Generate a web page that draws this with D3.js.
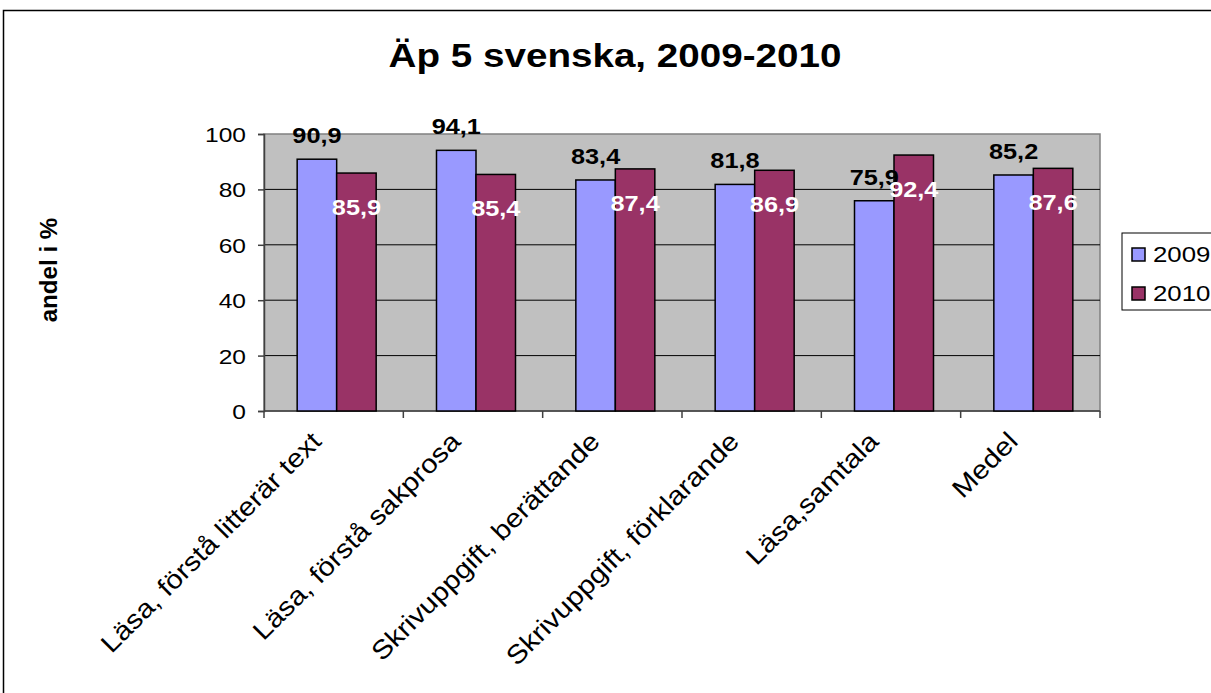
<!DOCTYPE html>
<html>
<head>
<meta charset="utf-8">
<script src="https://cdn.jsdelivr.net/npm/d3@7"></script>
<style>
  body { margin: 0; background: #fff; }
  text { font-family: Arial, "Liberation Sans", sans-serif; }
</style>
</head>
<body>
<script>
// data
const categories = [
  'Läsa, förstå litterär text',
  'Läsa, förstå sakprosa',
  'Skrivuppgift, berättande',
  'Skrivuppgift, förklarande',
  'Läsa,samtala',
  'Medel'
]
const seriesNames = ['2009', '2010']
const values2009 = [90.9, 94.1, 83.4, 81.8, 75.9, 85.2]
const values2010 = [85.9, 85.4, 87.4, 86.9, 92.4, 87.6]
const yTicks = [0, 20, 40, 60, 80, 100]
const colors = ['#9999ff', '#993366']

const width = 1211,
  height = 693
const plot = { left: 264, right: 1100, top: 134, bottom: 411 }
const stretch = 1.17 // text in the picture is drawn a bit wide

const svg = d3
  .select('body')
  .append('svg')
  .attr('width', width)
  .attr('height', height)

// outer frame
svg
  .append('rect')
  .attr('x', 3.5)
  .attr('y', 10.5)
  .attr('width', width + 10)
  .attr('height', height + 10)
  .attr('fill', 'none')
  .attr('stroke', '#000')
  .attr('stroke-width', 1.5)

// title
svg
  .append('text')
  .attr('transform', `translate(615,67) scale(${stretch},1)`)
  .attr('text-anchor', 'middle')
  .attr('font-weight', 'bold')
  .attr('font-size', 33)
  .text('Äp 5 svenska, 2009-2010')

// scales
const x0 = d3
  .scaleBand()
  .domain(categories)
  .range([plot.left + 3, plot.right + 3])
  .paddingInner(0.433)
  .paddingOuter(0.2165)

const x1 = d3.scaleBand().domain(seriesNames).range([0, x0.bandwidth()])

const y = d3.scaleLinear().domain([0, 100]).range([plot.bottom, plot.top])

// plot background
svg
  .append('rect')
  .attr('x', plot.left)
  .attr('y', plot.top)
  .attr('width', plot.right - plot.left)
  .attr('height', plot.bottom - plot.top)
  .attr('fill', '#c0c0c0')
  .attr('stroke', '#808080')
  .attr('stroke-width', 1.5)

// gridlines
svg
  .append('g')
  .selectAll('line')
  .data(yTicks.filter((d) => d > 0 && d < 100))
  .join('line')
  .attr('x1', plot.left)
  .attr('x2', plot.right)
  .attr('y1', (d) => y(d))
  .attr('y2', (d) => y(d))
  .attr('stroke', '#000')
  .attr('stroke-width', 1)

// y axis
const yAxis = svg
  .append('g')
  .attr('transform', `translate(${plot.left},0)`)
  .call(d3.axisLeft(y).tickValues(yTicks).tickSize(6).tickPadding(0))
yAxis.selectAll('path, line').attr('stroke', '#404040').attr('stroke-width', 1.5)
yAxis
  .selectAll('text')
  .attr('font-size', 21)
  .attr('fill', '#000')
  .attr('x', null)
  .attr('dy', null)
  .attr('transform', `translate(-18,7.5) scale(${stretch},1)`)

// x axis line and boundary ticks
const step = x0.step()
const boundaries = d3.range(categories.length + 1).map((i) => plot.left + i * step)
svg
  .append('line')
  .attr('x1', plot.left)
  .attr('x2', plot.right)
  .attr('y1', plot.bottom)
  .attr('y2', plot.bottom)
  .attr('stroke', '#404040')
  .attr('stroke-width', 1.5)
svg
  .append('g')
  .selectAll('line')
  .data(boundaries)
  .join('line')
  .attr('x1', (d) => d)
  .attr('x2', (d) => d)
  .attr('y1', plot.bottom)
  .attr('y2', plot.bottom + 7)
  .attr('stroke', '#404040')
  .attr('stroke-width', 1.5)

// x labels
svg
  .append('g')
  .selectAll('text')
  .data(categories)
  .join('text')
  .attr('text-anchor', 'end')
  .attr('font-size', 26)
  .attr(
    'transform',
    (d) =>
      `translate(${plot.left + (categories.indexOf(d) + 0.5) * step - 11},443) rotate(-45) scale(1.13,1)`,
  )
  .text((d) => d)

// bars
const rows = categories.map((c, i) => ({
  cat: c,
  vals: [
    { s: seriesNames[0], v: values2009[i] },
    { s: seriesNames[1], v: values2010[i] },
  ],
}))

const groups = svg
  .append('g')
  .selectAll('g')
  .data(rows)
  .join('g')
  .attr('transform', (d) => `translate(${x0(d.cat)},0)`)

groups
  .selectAll('rect')
  .data((d) => d.vals)
  .join('rect')
  .attr('x', (d) => x1(d.s))
  .attr('y', (d) => y(d.v))
  .attr('width', x1.bandwidth())
  .attr('height', (d) => y(0) - y(d.v))
  .attr('fill', (d, i) => colors[i])
  .attr('stroke', '#000')
  .attr('stroke-width', 1.5)

// value labels (comma decimals)
const fmt = (v) => v.toFixed(1).replace('.', ',')
groups
  .selectAll('text')
  .data((d) => d.vals)
  .join('text')
  .attr('text-anchor', 'middle')
  .attr('font-size', 22)
  .attr('font-weight', 'bold')
  .attr('fill', (d, i) => (i === 0 ? '#000' : '#fff'))
  .attr(
    'transform',
    (d, i) =>
      `translate(${x1(d.s) + x1.bandwidth() / 2},${y(d.v) + (i === 0 ? -16 : 42)}) scale(1.15,1)`,
  )
  .text((d) => fmt(d.v))

// y axis title
svg
  .append('text')
  .attr('transform', 'translate(57,270) rotate(-90) scale(1.05,1)')
  .attr('text-anchor', 'middle')
  .attr('font-weight', 'bold')
  .attr('font-size', 23)
  .text('andel i %')

// legend
const legend = svg.append('g').attr('transform', 'translate(1122,233)')
legend
  .append('rect')
  .attr('width', 120)
  .attr('height', 77)
  .attr('fill', '#fff')
  .attr('stroke', '#000')
  .attr('stroke-width', 1)
const items = legend
  .selectAll('g')
  .data(seriesNames)
  .join('g')
  .attr('transform', (d, i) => `translate(10,${15 + i * 39})`)
items
  .append('rect')
  .attr('width', 13)
  .attr('height', 13)
  .attr('fill', (d, i) => colors[i])
  .attr('stroke', '#000')
  .attr('stroke-width', 1.5)
items
  .append('text')
  .attr('transform', `translate(21,14) scale(1.2,1)`)
  .attr('font-size', 21.5)
  .text((d) => d)
</script>
</body>
</html>
